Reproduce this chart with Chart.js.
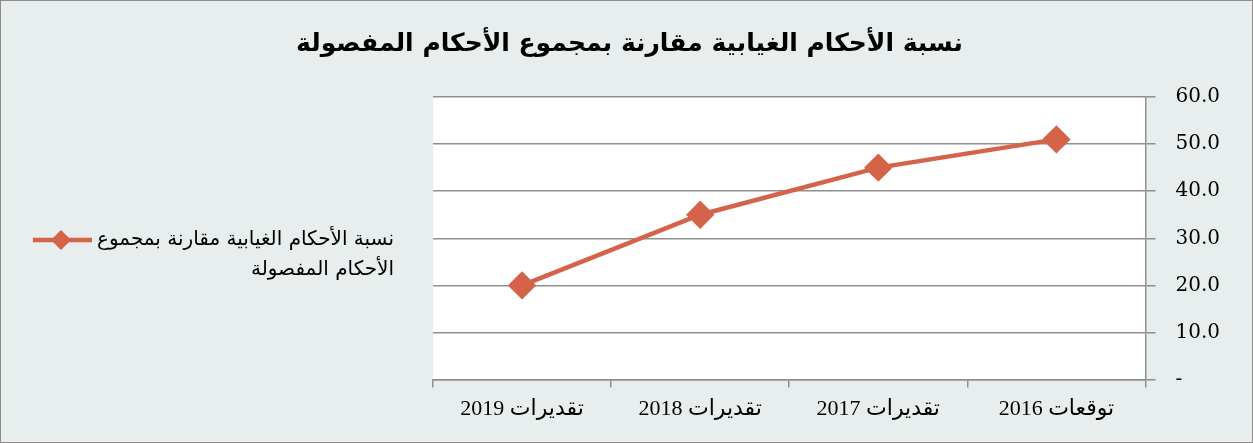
<!DOCTYPE html>
<html>
<head>
<meta charset="utf-8">
<script src="https://cdn.jsdelivr.net/npm/chart.js@4/dist/chart.umd.min.js"></script>
<style>
  html, body { margin: 0; padding: 0; background: #ffffff; }
  #wrap { width: 1251px; height: 441px; border: 1px solid #8c8c8c; background: #e7eeed; }
  canvas { display: block; }
</style>
</head>
<body>
<div id="wrap"><canvas id="c" width="1251" height="441" dir="rtl"></canvas></div>
<script>
const chartTitle = 'نسبة الأحكام الغيابية مقارنة بمجموع الأحكام المفصولة';
const seriesName = ['نسبة الأحكام الغيابية مقارنة بمجموع', 'الأحكام المفصولة'];
const categories = ['توقعات 2016', 'تقديرات 2017', 'تقديرات 2018', 'تقديرات 2019'];
const values = [51, 45, 35, 20];
const yTicks = [0, 10, 20, 30, 40, 50, 60];

const lineColor = '#d5634a';
const gridColor = '#8f8f8f';

const plotBg = {
  id: 'plotBg',
  beforeDraw(chart) {
    const {ctx, chartArea: a} = chart;
    ctx.save();
    ctx.fillStyle = '#ffffff';
    ctx.fillRect(a.left, a.top, a.right - a.left, a.bottom - a.top);
    ctx.restore();
  }
};

const titleAndLegend = {
  id: 'titleAndLegend',
  afterDraw(chart) {
    const ctx = chart.ctx;
    const ds = chart.data.datasets[0];
    ctx.save();
    // title
    ctx.fillStyle = '#000000';
    ctx.font = 'bold 25px "DejaVu Sans", sans-serif';
    ctx.textAlign = 'center';
    ctx.textBaseline = 'middle';
    ctx.fillText(chartTitle, chart.width / 2 + 3, 43);
    // legend
    const y0 = 239;
    ctx.strokeStyle = ds.borderColor;
    ctx.lineWidth = 4.5;
    ctx.beginPath();
    ctx.moveTo(32, y0);
    ctx.lineTo(91, y0);
    ctx.stroke();
    ctx.fillStyle = ds.pointBackgroundColor;
    ctx.beginPath();
    const cx = 60, r = 10;
    ctx.moveTo(cx, y0 - r); ctx.lineTo(cx + r, y0); ctx.lineTo(cx, y0 + r); ctx.lineTo(cx - r, y0);
    ctx.closePath();
    ctx.fill();
    ctx.fillStyle = '#000000';
    ctx.font = '20px "DejaVu Sans", sans-serif';
    ctx.textAlign = 'right';
    ctx.textBaseline = 'middle';
    ctx.fillText(ds.label[0], 393, y0);
    ctx.fillText(ds.label[1], 393, y0 + 30);
    ctx.restore();
  }
};

new Chart(document.getElementById('c'), {
  type: 'line',
  data: {
    labels: categories,
    datasets: [{
      label: seriesName,
      data: values,
      borderColor: lineColor,
      backgroundColor: lineColor,
      pointBackgroundColor: lineColor,
      pointBorderColor: lineColor,
      borderWidth: 4.5,
      pointStyle: 'rectRot',
      pointRadius: 11,
      pointHoverRadius: 11,
      tension: 0
    }]
  },
  options: {
    responsive: false,
    animation: false,
    events: [],
    layout: { padding: { left: 432, right: 12, top: 96, bottom: 12 } },
    plugins: {
      legend: { display: false },
      tooltip: { enabled: false },
      title: { display: false }
    },
    scales: {
      x: {
        type: 'category',
        reverse: true,
        offset: true,
        grid: { display: true, drawOnChartArea: false, drawTicks: true, offset: true, tickLength: 8, color: gridColor, lineWidth: 1.5 },
        border: { display: true, color: gridColor, width: 1.5 },
        ticks: { color: '#000000', font: { family: '"Liberation Serif", "DejaVu Sans", serif', size: 22 }, padding: 8, maxRotation: 0 }
      },
      y: {
        position: 'right',
        min: 0,
        max: 60,
        afterBuildTicks(scale) { scale.ticks = yTicks.map(v => ({ value: v })); },
        grid: { color: gridColor, lineWidth: 1.5, tickLength: 10, drawTicks: true },
        border: { display: true, color: gridColor, width: 1.5 },
        ticks: {
          color: '#000000',
          padding: 20,
          font: { family: '"DejaVu Serif", "Liberation Serif", serif', size: 20 },
          callback: (v) => v === 0 ? '-' : Number(v).toFixed(1)
        }
      }
    }
  },
  plugins: [plotBg, titleAndLegend]
});
</script>
</body>
</html>
